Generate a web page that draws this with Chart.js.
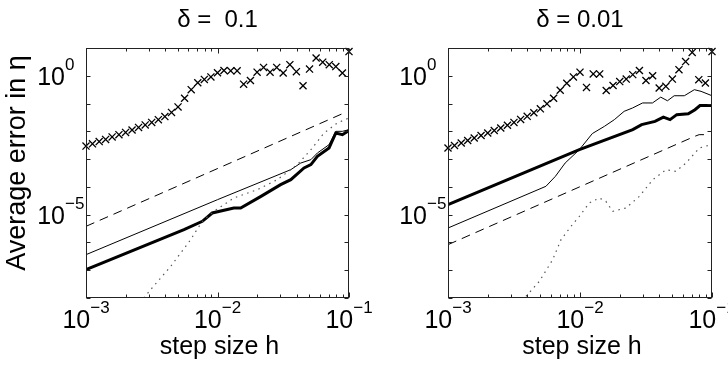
<!DOCTYPE html>
<html>
<head>
<meta charset="utf-8">
<script src="https://cdn.jsdelivr.net/npm/chart.js@4"></script>
<style>
  body { margin: 0; background: #fff; }
  .wrap { position: relative; width: 728px; height: 369px; }
  .wrap canvas { position: absolute; left: 0; top: 0; }
</style>
</head>
<body>
<div class="wrap">
  <canvas id="left" width="728" height="369"></canvas>
  <canvas id="right" width="728" height="369"></canvas>
</div>
<script>
// step sizes used for the x markers
const hGrid = [1.00e-3, 1.12e-3, 1.26e-3, 1.41e-3, 1.58e-3, 1.78e-3, 2.00e-3, 2.24e-3, 2.51e-3, 2.82e-3,
  3.16e-3, 3.55e-3, 3.98e-3, 4.47e-3, 5.01e-3, 5.62e-3, 6.31e-3, 7.08e-3, 7.94e-3, 8.91e-3,
  1.00e-2, 1.12e-2, 1.26e-2, 1.41e-2, 1.58e-2, 1.78e-2, 2.00e-2, 2.24e-2, 2.51e-2, 2.82e-2,
  3.16e-2, 3.55e-2, 3.98e-2, 4.47e-2, 5.01e-2, 5.62e-2, 6.31e-2, 7.08e-2, 7.94e-2, 8.91e-2, 1.00e-1];

// delta = 0.1
const crossA = [2.95e-3, 3.55e-3, 4.27e-3, 5.13e-3, 6.31e-3, 7.59e-3, 9.12e-3, 1.12e-2, 1.38e-2, 1.70e-2,
  2.09e-2, 2.63e-2, 3.39e-2, 4.79e-2, 7.59e-2, 0.155, 0.316, 0.562, 0.741, 0.912,
  1.29, 1.55, 1.51, 1.51, 0.50, 0.676, 1.35, 2.0, 1.35, 2.0,
  1.26, 2.51, 1.41, 0.436, 1.74, 4.37, 3.09, 2.51, 2.14, 1.26, 7.41];
const dashA_h = [1e-3, 8.9e-2];
const dashA = [3.8e-6, 4.3e-2];
const thinA_h = [1e-3, 1e-2, 3.61e-2, 4.30e-2, 5.13e-2, 5.75e-2, 7.05e-2, 7.94e-2, 8.91e-2, 1e-1];
const thinA = [3.63e-7, 3.47e-5, 4.17e-4, 7.24e-4, 9.55e-4, 1.66e-3, 3.31e-3, 1.0e-2, 1.0e-2, 1.15e-2];
const thickA_h = [1e-3, 5.56e-3, 7.67e-3, 9.12e-3, 1.33e-2, 1.5e-2, 2.14e-2, 3.02e-2, 3.61e-2, 4.55e-2, 5.13e-2, 5.75e-2, 7.05e-2, 7.94e-2, 8.91e-2, 1e-1];
const thickA = [1.05e-7, 2.88e-6, 5.75e-6, 1.15e-5, 1.74e-5, 1.74e-5, 4.57e-5, 1.2e-4, 1.82e-4, 4.79e-4, 6.31e-4, 1.26e-3, 2.51e-3, 8.71e-3, 7.59e-3, 1.07e-2];
const dotA_h = [2.75e-3, 3.1e-3, 4.41e-3, 6.25e-3, 7.24e-3, 7.89e-3, 9.4e-3, 1.33e-2, 2.01e-2, 2.85e-2, 4.05e-2, 5.13e-2, 6.46e-2, 8.15e-2, 1e-1];
const dotA = [1e-8, 2.0e-8, 1.38e-7, 1.26e-6, 3.8e-6, 6.61e-6, 1.32e-5, 3.98e-5, 7.94e-5, 1.82e-4, 6.31e-4, 2.19e-3, 8.71e-3, 2.0e-2, 3.02e-2];

// delta = 0.01
const crossB = [2.51e-3, 3.09e-3, 3.80e-3, 4.68e-3, 5.75e-3, 7.08e-3, 8.71e-3, 1.07e-2, 1.32e-2, 1.66e-2,
  2.09e-2, 2.69e-2, 3.47e-2, 4.68e-2, 6.46e-2, 9.77e-2, 0.155, 0.302, 0.537, 0.912,
  1.35, 0.380, 1.17, 1.17, 0.295, 0.447, 0.617, 0.759, 1.10, 1.55,
  0.676, 1.0, 0.363, 0.417, 0.759, 1.66, 3.24, 6.92, 0.724, 0.550, 7.41];
const dashB_h = [1e-3, 7.4e-2, 7.99e-2, 8.75e-2];
const dashB = [8.32e-7, 6.61e-3, 7.59e-3, 7.59e-3];
const thinB_h = [1e-3, 5.52e-3, 6.51e-3, 7.72e-3, 9.89e-3, 1.24e-2, 1.53e-2, 1.82e-2, 2.16e-2, 2.50e-2, 2.98e-2, 3.54e-2, 4.09e-2, 4.6e-2, 5.17e-2, 6.17e-2, 7.35e-2, 8.26e-2, 1e-1];
const thinB = [3.31e-6, 1.05e-4, 2.40e-4, 7.24e-4, 2.19e-3, 8.32e-3, 1.51e-2, 2.63e-2, 5.25e-2, 6.92e-2, 0.105, 0.105, 0.170, 0.126, 0.191, 0.191, 0.316, 0.275, 0.191];
const thickB_h = [1e-3, 9.89e-3, 2.51e-2, 2.93e-2, 3.70e-2, 4.28e-2, 4.81e-2, 5.41e-2, 6.61e-2, 7.43e-2, 8.11e-2, 1e-1];
const thickB = [2.29e-5, 2.19e-3, 1.15e-2, 1.74e-2, 2.29e-2, 3.24e-2, 2.63e-2, 3.98e-2, 4.27e-2, 6.03e-2, 8.51e-2, 8.51e-2];
const dotB_h = [3.9e-3, 4.92e-3, 6.21e-3, 7.18e-3, 8.55e-3, 9.89e-3, 1.175e-2, 1.40e-2, 1.57e-2, 1.77e-2, 2.23e-2, 2.82e-2, 3.56e-2, 4.49e-2, 5.33e-2, 6.35e-2, 8.02e-2, 9.82e-2];
const dotB = [1.15e-8, 3.98e-8, 2.40e-7, 1.26e-6, 3.8e-6, 8.71e-6, 2.63e-5, 3.98e-5, 3.02e-5, 1.32e-5, 1.74e-5, 4.57e-5, 1.82e-4, 4.17e-4, 3.63e-4, 7.24e-4, 2.51e-3, 3.31e-3];

// ticks
const yTicks = [1e-8, 1e-7, 1e-6, 1e-5, 1e-4, 1e-3, 1e-2, 1e-1, 1, 10];
const yLabelVals = [1, 1e-5];
const yLabelExp = ['0', '\u22125'];
const xMajor = [1e-3, 1e-2, 1e-1];
const xMinor = [2e-3, 3e-3, 4e-3, 5e-3, 6e-3, 7e-3, 8e-3, 9e-3, 2e-2, 3e-2, 4e-2, 5e-2, 6e-2, 7e-2, 8e-2, 9e-2];
const xLabelExp = ['\u22123', '\u22122', '\u22121'];

const FONT = '"Liberation Sans", Arial, sans-serif';

const pts = (hs, ys) => hs.map((h, i) => ({ x: h, y: ys[i] }));

const frame = {
  id: 'frame',
  afterDraw(chart, args, o) {
    const { ctx, chartArea: a, scales: { x, y } } = chart;
    const L = Math.round(a.left) + 0.5, R = Math.round(a.right) - 0.5;
    const T = Math.round(a.top) + 0.5, B = Math.round(a.bottom) - 0.5;
    ctx.save();
    ctx.strokeStyle = '#222';
    ctx.lineWidth = 1;
    ctx.strokeRect(L, T, R - L, B - T);
    ctx.beginPath();
    yTicks.forEach(v => {
      const p = Math.round(y.getPixelForValue(v)) + 0.5;
      ctx.moveTo(L, p); ctx.lineTo(L + 4, p);
      ctx.moveTo(R, p); ctx.lineTo(R - 4, p);
    });
    xMajor.forEach(v => {
      const p = Math.round(x.getPixelForValue(v)) + 0.5;
      ctx.moveTo(p, B); ctx.lineTo(p, B - 5);
      ctx.moveTo(p, T); ctx.lineTo(p, T + 5);
    });
    xMinor.forEach(v => {
      const p = Math.round(x.getPixelForValue(v)) + 0.5;
      ctx.moveTo(p, B); ctx.lineTo(p, B - 3);
      ctx.moveTo(p, T); ctx.lineTo(p, T + 3);
    });
    ctx.stroke();

    ctx.fillStyle = '#000';
    ctx.textBaseline = 'alphabetic';
    const big = '25px ' + FONT, small = '17px ' + FONT;

    // y tick labels
    yLabelVals.forEach((v, i) => {
      const p = y.getPixelForValue(v);
      const xr = a.left - 21;
      ctx.font = big; ctx.textAlign = 'right';
      ctx.fillText('10', xr, p + 9);
      ctx.font = small; ctx.textAlign = 'left';
      ctx.fillText(yLabelExp[i], xr, p - 6);
    });

    // x tick labels
    xMajor.forEach((v, i) => {
      const p = x.getPixelForValue(v);
      ctx.font = big;
      const w1 = ctx.measureText('10').width;
      ctx.font = small;
      const w2 = ctx.measureText(xLabelExp[i]).width;
      const s = p - (w1 + w2) / 2;
      ctx.textAlign = 'left';
      ctx.font = big;
      ctx.fillText('10', s, a.bottom + 30);
      ctx.font = small;
      ctx.fillText(xLabelExp[i], s + w1, a.bottom + 15);
    });

    // titles
    const cx = (a.left + a.right) / 2;
    ctx.textAlign = 'center';
    ctx.font = '24px ' + FONT;
    ctx.fillText(o.title, cx, 27);
    ctx.font = '25px ' + FONT;
    ctx.fillText('step size h', cx + 2, 354);
    if (o.ylabel) {
      ctx.translate(25, 163);
      ctx.rotate(-Math.PI / 2);
      ctx.font = '27px ' + FONT;
      ctx.fillText('Average error in \u03b7', 0, 0);
    }
    ctx.restore();
  }
};

function makeChart(id, pad, title, ylabel, cross, dash, thin, thick, dot) {
  return new Chart(document.getElementById(id), {
    type: 'scatter',
    data: {
      datasets: [
        { data: dot, showLine: true, pointRadius: 0, borderColor: '#555', borderWidth: 1.2, borderDash: [1.5, 4.5] },
        { data: dash, showLine: true, pointRadius: 0, borderColor: '#000', borderWidth: 1, borderDash: [9, 6] },
        { data: thin, showLine: true, pointRadius: 0, borderColor: '#000', borderWidth: 1 },
        { data: thick, showLine: true, pointRadius: 0, borderColor: '#000', borderWidth: 3 },
        { data: cross, pointStyle: 'crossRot', pointRadius: 5, borderColor: '#000', borderWidth: 1.3, clip: false }
      ]
    },
    options: {
      responsive: false,
      animation: false,
      devicePixelRatio: 1,
      layout: { padding: pad },
      plugins: {
        legend: { display: false },
        tooltip: { enabled: false },
        frame: { title: title, ylabel: ylabel }
      },
      scales: {
        x: { type: 'logarithmic', min: 1e-3, max: 1e-1, display: false },
        y: { type: 'logarithmic', min: 1e-8, max: 10, display: false }
      }
    },
    plugins: [frame]
  });
}

makeChart('left', { left: 86, top: 48, right: 379, bottom: 71 }, '\u03b4 =  0.1', true,
  pts(hGrid, crossA), pts(dashA_h, dashA), pts(thinA_h, thinA), pts(thickA_h, thickA), pts(dotA_h, dotA));
makeChart('right', { left: 448, top: 48, right: 16, bottom: 71 }, '\u03b4 = 0.01', false,
  pts(hGrid, crossB), pts(dashB_h, dashB), pts(thinB_h, thinB), pts(thickB_h, thickB), pts(dotB_h, dotB));
</script>
</body>
</html>
